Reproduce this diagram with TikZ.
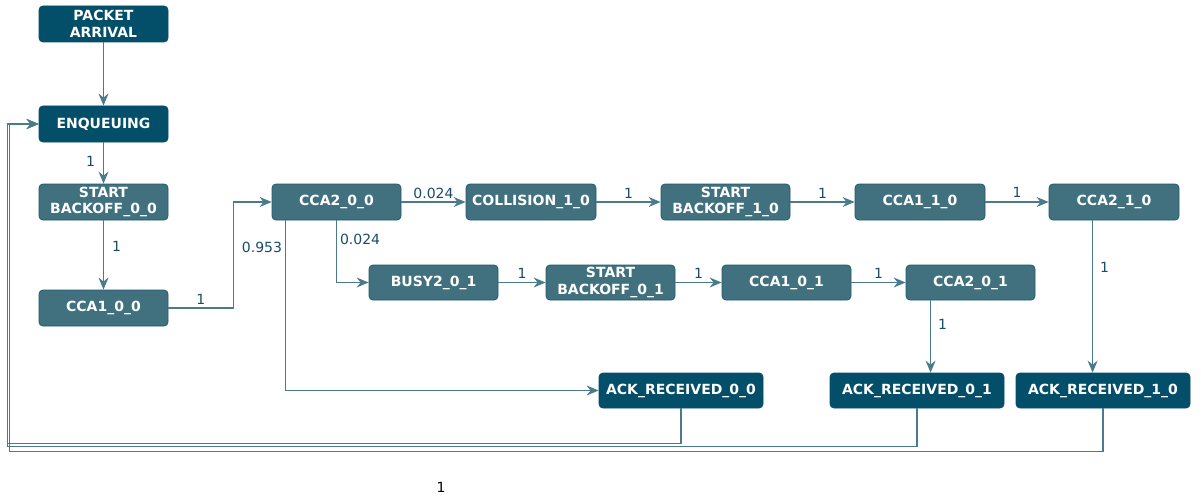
\documentclass[tikz,border=0pt]{standalone}
\usepackage{fontspec}
\setmainfont{DejaVu Sans}
\usetikzlibrary{arrows.meta}
\definecolor{darkbox}{HTML}{034E68}
\definecolor{midbox}{HTML}{41717F}
\definecolor{boxline}{HTML}{1D5A6E}
\definecolor{edgecol}{HTML}{4A7B8B}
\definecolor{labcol}{HTML}{174D65}
\tikzset{
  box/.style={rectangle, rounded corners=4pt, minimum height=36pt, minimum width=129pt,
    inner sep=0pt, align=center, text=white, draw=boxline, line width=0.8pt,
    font=\fontsize{14}{16.5}\selectfont\bfseries},
  darkst/.style={box, fill=darkbox, draw=darkbox},
  midst/.style={box, fill=midbox},
  ackst/.style={box, fill=darkbox, draw=darkbox, minimum width=164pt, minimum height=35pt},
  arr/.style={draw=edgecol, line width=1.1pt, -{Stealth[length=12pt,width=10pt,inset=4pt]}},
  lab/.style={text=labcol, font=\fontsize{14}{16}\selectfont, inner sep=2pt},
}
\begin{document}
\begin{tikzpicture}[x=1pt,y=-1pt]
\useasboundingbox (0,0) rectangle (1201,500);
% nodes
\node[darkst] (pa) at (103.5,24) {PACKET\\ARRIVAL};
\node[darkst] (enq) at (103.5,124) {ENQUEUING};
\node[midst] (sb00) at (103.5,202) {START\\BACKOFF\_0\_0};
\node[midst] (c100) at (103.5,308) {CCA1\_0\_0};
\node[midst] (c200) at (336.5,202) {CCA2\_0\_0};
\node[midst, minimum width=130pt] (col) at (531,202) {COLLISION\_1\_0};
\node[midst] (sb10) at (725.5,202) {START\\BACKOFF\_1\_0};
\node[midst, minimum width=130pt] (c110) at (920,202) {CCA1\_1\_0};
\node[midst, minimum width=130pt] (c210) at (1114,202) {CCA2\_1\_0};
\node[midst, minimum height=35pt] (busy) at (433.5,282.5) {BUSY2\_0\_1};
\node[midst, minimum height=35pt] (sb01) at (610.5,282.5) {START\\BACKOFF\_0\_1};
\node[midst, minimum height=35pt] (c101) at (786.5,282.5) {CCA1\_0\_1};
\node[midst, minimum height=35pt] (c201) at (970.5,282.5) {CCA2\_0\_1};
\node[ackst] (ack00) at (681,390.5) {ACK\_RECEIVED\_0\_0};
\node[ackst, minimum width=174pt] (ack01) at (917,390.5) {ACK\_RECEIVED\_0\_1};
\node[ackst, minimum width=174pt] (ack10) at (1103,390.5) {ACK\_RECEIVED\_1\_0};
% edges
\draw[arr] (pa) -- (enq);
\draw[arr] (enq) -- node[lab, left=6pt, pos=0.45] {1} (sb00);
\draw[arr] (sb00) -- node[lab, right=6pt, pos=0.38] {1} (c100);
\draw[arr] (c100.east) -- node[lab, above=1pt] {1} ++(65,0) |- (c200.west);
\draw[arr] ([xshift=14pt]c200.south west) |- node[lab, left=1pt, pos=0.08] {0.953} (ack00.west);
\draw[arr] (c200) -- node[lab, above=1pt] {0.024} (col);
\draw[arr] (c200.south) |- node[lab, right=1pt, pos=0.15] {0.024} (busy.west);
\draw[arr] (col) -- node[lab, above=1pt] {1} (sb10);
\draw[arr] (sb10) -- node[lab, above=1pt] {1} (c110);
\draw[arr] (c110) -- node[lab, above=2pt] {1} (c210);
\draw[arr] ([xshift=44pt]c210.south west) -- node[lab, right=5pt, pos=0.31] {1} ([xshift=44pt]c210.south west |- ack10.north);
\draw[arr] (busy) -- node[lab, above=1pt] {1} (sb01);
\draw[arr] (sb01) -- node[lab, above=1pt] {1} (c101);
\draw[arr] (c101) -- node[lab, above=1pt] {1} (c201);
\draw[arr] ([xshift=25pt]c201.south west) -- node[lab, right=5pt, pos=0.33] {1} ([xshift=25pt]c201.south west |- ack01.north);
% feedback loops
\draw[arr] (ack00.south) -- ++(0,35) -| ([xshift=-31pt]enq.west) -- (enq.west);
\draw[arr] (ack01.south) -- ++(0,38) -| ([xshift=-31pt]enq.west) -- (enq.west);
\draw[arr] (ack10.south) -- ++(0,43) -| ([xshift=-29pt]enq.west) -- (enq.west);
% stray label
\node[font=\fontsize{14}{16}\selectfont, text=black] (one) at (441,487) {1};
\end{tikzpicture}
\end{document}
